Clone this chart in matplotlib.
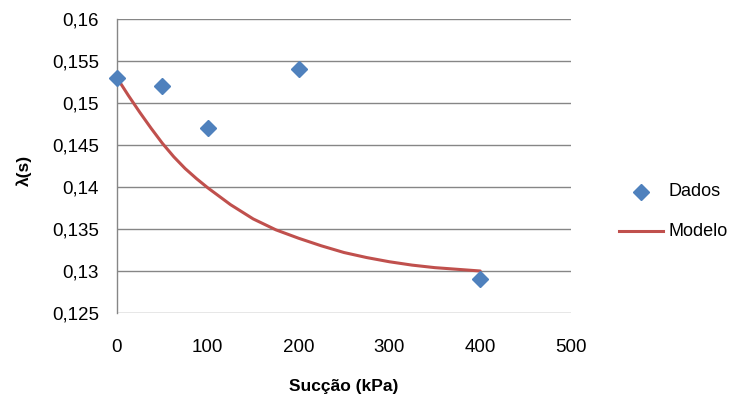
import matplotlib
matplotlib.use("Agg")
import matplotlib.pyplot as plt
from matplotlib.lines import Line2D

# measured points
succao = [0, 50, 100, 200, 400]
lambda_dados = [0.153, 0.152, 0.147, 0.154, 0.129]

# model curve
s_modelo = [0, 12.5, 25, 37.5, 50, 62.5, 75, 87.5, 100, 125, 150, 175, 200, 225, 250,
            275, 300, 325, 350, 375, 400]
lambda_modelo = [0.1530, 0.1509, 0.1489, 0.1470, 0.1452, 0.1436, 0.1422, 0.1410, 0.1399,
                 0.1379, 0.1362, 0.1349, 0.1339, 0.1330, 0.1322, 0.1316, 0.1311, 0.1307,
                 0.1304, 0.1302, 0.1300]

y_ticks = [0.125, 0.13, 0.135, 0.14, 0.145, 0.15, 0.155, 0.16]
y_labels = ["0,125", "0,13", "0,135", "0,14", "0,145", "0,15", "0,155", "0,16"]
x_ticks = [0, 100, 200, 300, 400, 500]

blue = "#4F81BD"
red = "#C0504D"
grid_gray = "#868686"

plt.rcParams['font.family'] = ['Liberation Sans', 'DejaVu Sans']

W, H = 735, 407
fig = plt.figure(figsize=(W / 100, H / 100), dpi=100)
ax = fig.add_axes([117 / W, 1 - 313 / H, 454 / W, 294 / H])

ax.plot(s_modelo, lambda_modelo, color=red, linewidth=2.2, zorder=3,
        solid_joinstyle="round", solid_capstyle="round")
ax.plot(succao, lambda_dados, linestyle="none", marker="D", markersize=8.5,
        color=blue, zorder=4, clip_on=False)

ax.set_xlim(0, 500)
ax.set_ylim(0.125, 0.16)
ax.set_xticks(x_ticks)
ax.set_xticklabels([str(v) for v in x_ticks])
ax.set_yticks(y_ticks)
ax.set_yticklabels(y_labels)
ax.tick_params(axis="both", length=0, labelsize=13.5)
ax.tick_params(axis="x", pad=19)
ax.tick_params(axis="y", pad=13)

ax.grid(axis="y", color=grid_gray, linewidth=1.0)
ax.set_axisbelow(True)
for side in ["top", "right", "bottom"]:
    ax.spines[side].set_visible(False)
ax.spines["left"].set_color(grid_gray)
ax.spines["left"].set_linewidth(1.0)

ax.set_xlabel("Sucção (kPa)", fontsize=12.5, fontweight="bold")
ax.xaxis.set_label_coords(0.5, -(379 - 313) / 294)
ax.set_ylabel("λ(s)", fontsize=12.5, fontweight="bold", va="center")
ax.yaxis.set_label_coords(-(117 - 24) / 454, (313 - 170) / 294)

# legend drawn by hand to match the spacing
fig.add_artist(Line2D([641 / W], [1 - 192 / H], linestyle="none", marker="D",
                      markersize=8.5, color=blue, transform=fig.transFigure))
fig.add_artist(Line2D([619 / W, 663 / W], [1 - 231 / H] * 2, color=red,
                      linewidth=2.2, transform=fig.transFigure))
fig.text(668 / W, 1 - 192 / H, "Dados", fontsize=13, va="center", ha="left")
fig.text(668 / W, 1 - 231 / H, "Modelo", fontsize=13, va="center", ha="left")

fig.savefig("out.png", dpi=100)
